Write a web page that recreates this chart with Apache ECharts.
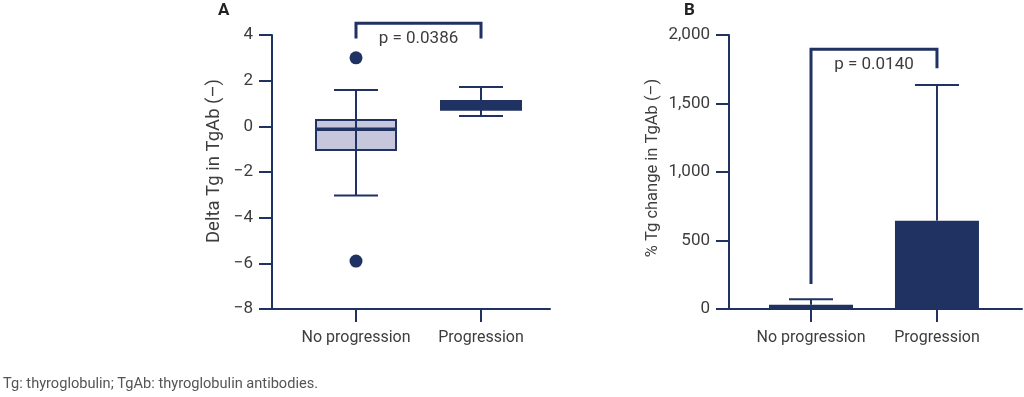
<!DOCTYPE html>
<html>
<head>
<meta charset="utf-8">
<script src="https://cdn.jsdelivr.net/npm/echarts@6/dist/echarts.min.js"></script>
<style>
  html, body { margin: 0; padding: 0; background: #fff; }
  #chart { width: 1024px; height: 397px; }
</style>
</head>
<body>
<div id="chart"></div>
<script>
// categories sit at x = 1 and x = 2 on both panels
const categories = ["No progression", "Progression"];
const catPos = [1, 2];

// panel A: box plot of delta Tg (min, q1, median, q3, max)
const boxStats = [
  [-3.03, -1.04, -0.13, 0.28, 1.59],
  [0.45, 0.73, 0.92, 1.11, 1.72],
];
const outliers = [[1, 3.0], [1, -5.9]];
const ticksA = [-8, -6, -4, -2, 0, 2, 4];
const bracketA = [3.85, 4.52, 3.85]; // left end, top, right end
const pA = "p = 0.0386";

// panel B: mean % change with upper error bar
const barMeans = [31, 645];
const barUpper = [71, 1635];
const ticksB = [0, 500, 1000, 1500, 2000];
const bracketB = [182, 1896, 1757];
const pB = "p = 0.0140";

const footnote = "Tg: thyroglobulin; TgAb: thyroglobulin antibodies.";

const navy = "#1f3262";
const textColor = "#3d3d3d";
const font = "'Liberation Sans Narrow', 'Roboto', sans-serif";

const chart = echarts.init(document.getElementById("chart"));

function xAxisOpt(gridIndex, min, max) {
  return {
    type: "value",
    gridIndex: gridIndex,
    min: min,
    max: max,
    splitLine: { show: false },
    axisLine: { show: true, onZero: false, lineStyle: { color: navy, width: 2 } },
    axisTick: { show: true, customValues: catPos, length: 13, lineStyle: { color: navy, width: 2 } },
    axisLabel: {
      customValues: catPos,
      margin: 21,
      color: textColor,
      fontSize: 16,
      fontFamily: font,
      formatter: (v) => categories[Math.round(v) - 1],
    },
  };
}

function yAxisOpt(gridIndex, ticks, name, nameGap, nameSize, namePad, fmt) {
  return {
    type: "value",
    gridIndex: gridIndex,
    min: ticks[0],
    max: ticks[ticks.length - 1],
    interval: ticks[1] - ticks[0],
    name: name,
    nameLocation: "middle",
    nameGap: nameGap,
    nameTextStyle: { color: textColor, fontSize: nameSize, fontFamily: font, padding: [0, 0, 0, namePad] },
    splitLine: { show: false },
    axisLine: { show: true, lineStyle: { color: navy, width: 2 } },
    axisTick: { show: true, length: 13, lineStyle: { color: navy, width: 2 } },
    axisLabel: { margin: 19, color: textColor, fontSize: 17, fontFamily: font, formatter: fmt },
  };
}

// draws a significance bracket between the two categories
function bracketSeries(idx, levels, label) {
  return {
    type: "custom",
    xAxisIndex: idx,
    yAxisIndex: idx,
    clip: false,
    silent: true,
    data: [levels],
    renderItem: (params, api) => {
      const l = api.coord([catPos[0], api.value(0)]);
      const tl = api.coord([catPos[0], api.value(1)]);
      const tr = api.coord([catPos[1], api.value(1)]);
      const r = api.coord([catPos[1], api.value(2)]);
      return {
        type: "group",
        children: [
          {
            type: "polyline",
            shape: { points: [l, tl, tr, r] },
            style: { stroke: navy, lineWidth: 3, fill: null },
          },
          {
            type: "text",
            x: (tl[0] + tr[0]) / 2,
            y: tl[1] + 16,
            style: {
              text: label,
              align: "center",
              verticalAlign: "middle",
              fill: textColor,
              font: "17px " + font,
            },
          },
        ],
      };
    },
  };
}

const boxFill = ["#c6c7dc", navy];

chart.setOption({
  animation: false,
  textStyle: { fontFamily: font },
  grid: [
    { left: 272, top: 35, width: 278, height: 274 },
    { left: 729, top: 35, width: 293, height: 274 },
  ],
  xAxis: [xAxisOpt(0, 0.328, 2.552), xAxisOpt(1, 0.349, 2.675)],
  yAxis: [
    yAxisOpt(0, ticksA, "Delta Tg in TgAb (\u2013)", 48, 18.5, 22, (v) => (v < 0 ? "\u2212" + Math.abs(v) : String(v))),
    yAxisOpt(1, ticksB, "% Tg change in TgAb (\u2013)", 68, 16.5, 8, (v) => v.toLocaleString("en-US")),
  ],
  graphic: [
    { type: "text", left: 218, top: 2, style: { text: "A", font: "bold 17px " + font, fill: "#222" } },
    { type: "text", left: 684, top: 2, style: { text: "B", font: "bold 17px " + font, fill: "#222" } },
    { type: "text", left: 3, top: 377, style: { text: footnote, font: "14.6px " + font, fill: "#555" } },
  ],
  series: [
    {
      type: "custom",
      xAxisIndex: 0,
      yAxisIndex: 0,
      silent: true,
      data: boxStats.map((s, i) => [catPos[i]].concat(s).concat([i])),
      renderItem: (params, api) => {
        const x = api.value(0);
        const p = [1, 2, 3, 4, 5].map((k) => api.coord([x, api.value(k)]));
        const cx = p[0][0];
        const half = 40, cap = 22;
        const fill = boxFill[api.value(6)];
        return {
          type: "group",
          children: [
            { type: "line", shape: { x1: cx, y1: p[0][1], x2: cx, y2: p[4][1] }, style: { stroke: navy, lineWidth: 2 } },
            { type: "line", shape: { x1: cx - cap, y1: p[0][1], x2: cx + cap, y2: p[0][1] }, style: { stroke: navy, lineWidth: 2 } },
            { type: "line", shape: { x1: cx - cap, y1: p[4][1], x2: cx + cap, y2: p[4][1] }, style: { stroke: navy, lineWidth: 2 } },
            {
              type: "rect",
              shape: { x: cx - half, y: p[3][1], width: half * 2, height: p[1][1] - p[3][1] },
              style: { fill: fill, stroke: navy, lineWidth: 2 },
            },
            { type: "line", shape: { x1: cx, y1: p[3][1], x2: cx, y2: p[1][1] }, style: { stroke: navy, lineWidth: 2 } },
            { type: "line", shape: { x1: cx - half, y1: p[2][1], x2: cx + half, y2: p[2][1] }, style: { stroke: navy, lineWidth: 3.5 } },
          ],
        };
      },
    },
    {
      type: "scatter",
      xAxisIndex: 0,
      yAxisIndex: 0,
      symbolSize: 13,
      itemStyle: { color: navy, opacity: 1 },
      data: outliers,
    },
    bracketSeries(0, bracketA, pA),
    {
      type: "custom",
      xAxisIndex: 1,
      yAxisIndex: 1,
      silent: true,
      data: barUpper.map((u, i) => [catPos[i], barMeans[i], u]),
      renderItem: (params, api) => {
        const a = api.coord([api.value(0), api.value(1)]);
        const b = api.coord([api.value(0), api.value(2)]);
        const cap = 22;
        return {
          type: "group",
          children: [
            { type: "line", shape: { x1: a[0], y1: a[1], x2: b[0], y2: b[1] }, style: { stroke: navy, lineWidth: 2 } },
            { type: "line", shape: { x1: b[0] - cap, y1: b[1], x2: b[0] + cap, y2: b[1] }, style: { stroke: navy, lineWidth: 2 } },
          ],
        };
      },
    },
    {
      type: "bar",
      xAxisIndex: 1,
      yAxisIndex: 1,
      barWidth: 84,
      itemStyle: { color: navy },
      data: barMeans.map((m, i) => [catPos[i], m]),
    },
    bracketSeries(1, bracketB, pB),
  ],
});
</script>
</body>
</html>
